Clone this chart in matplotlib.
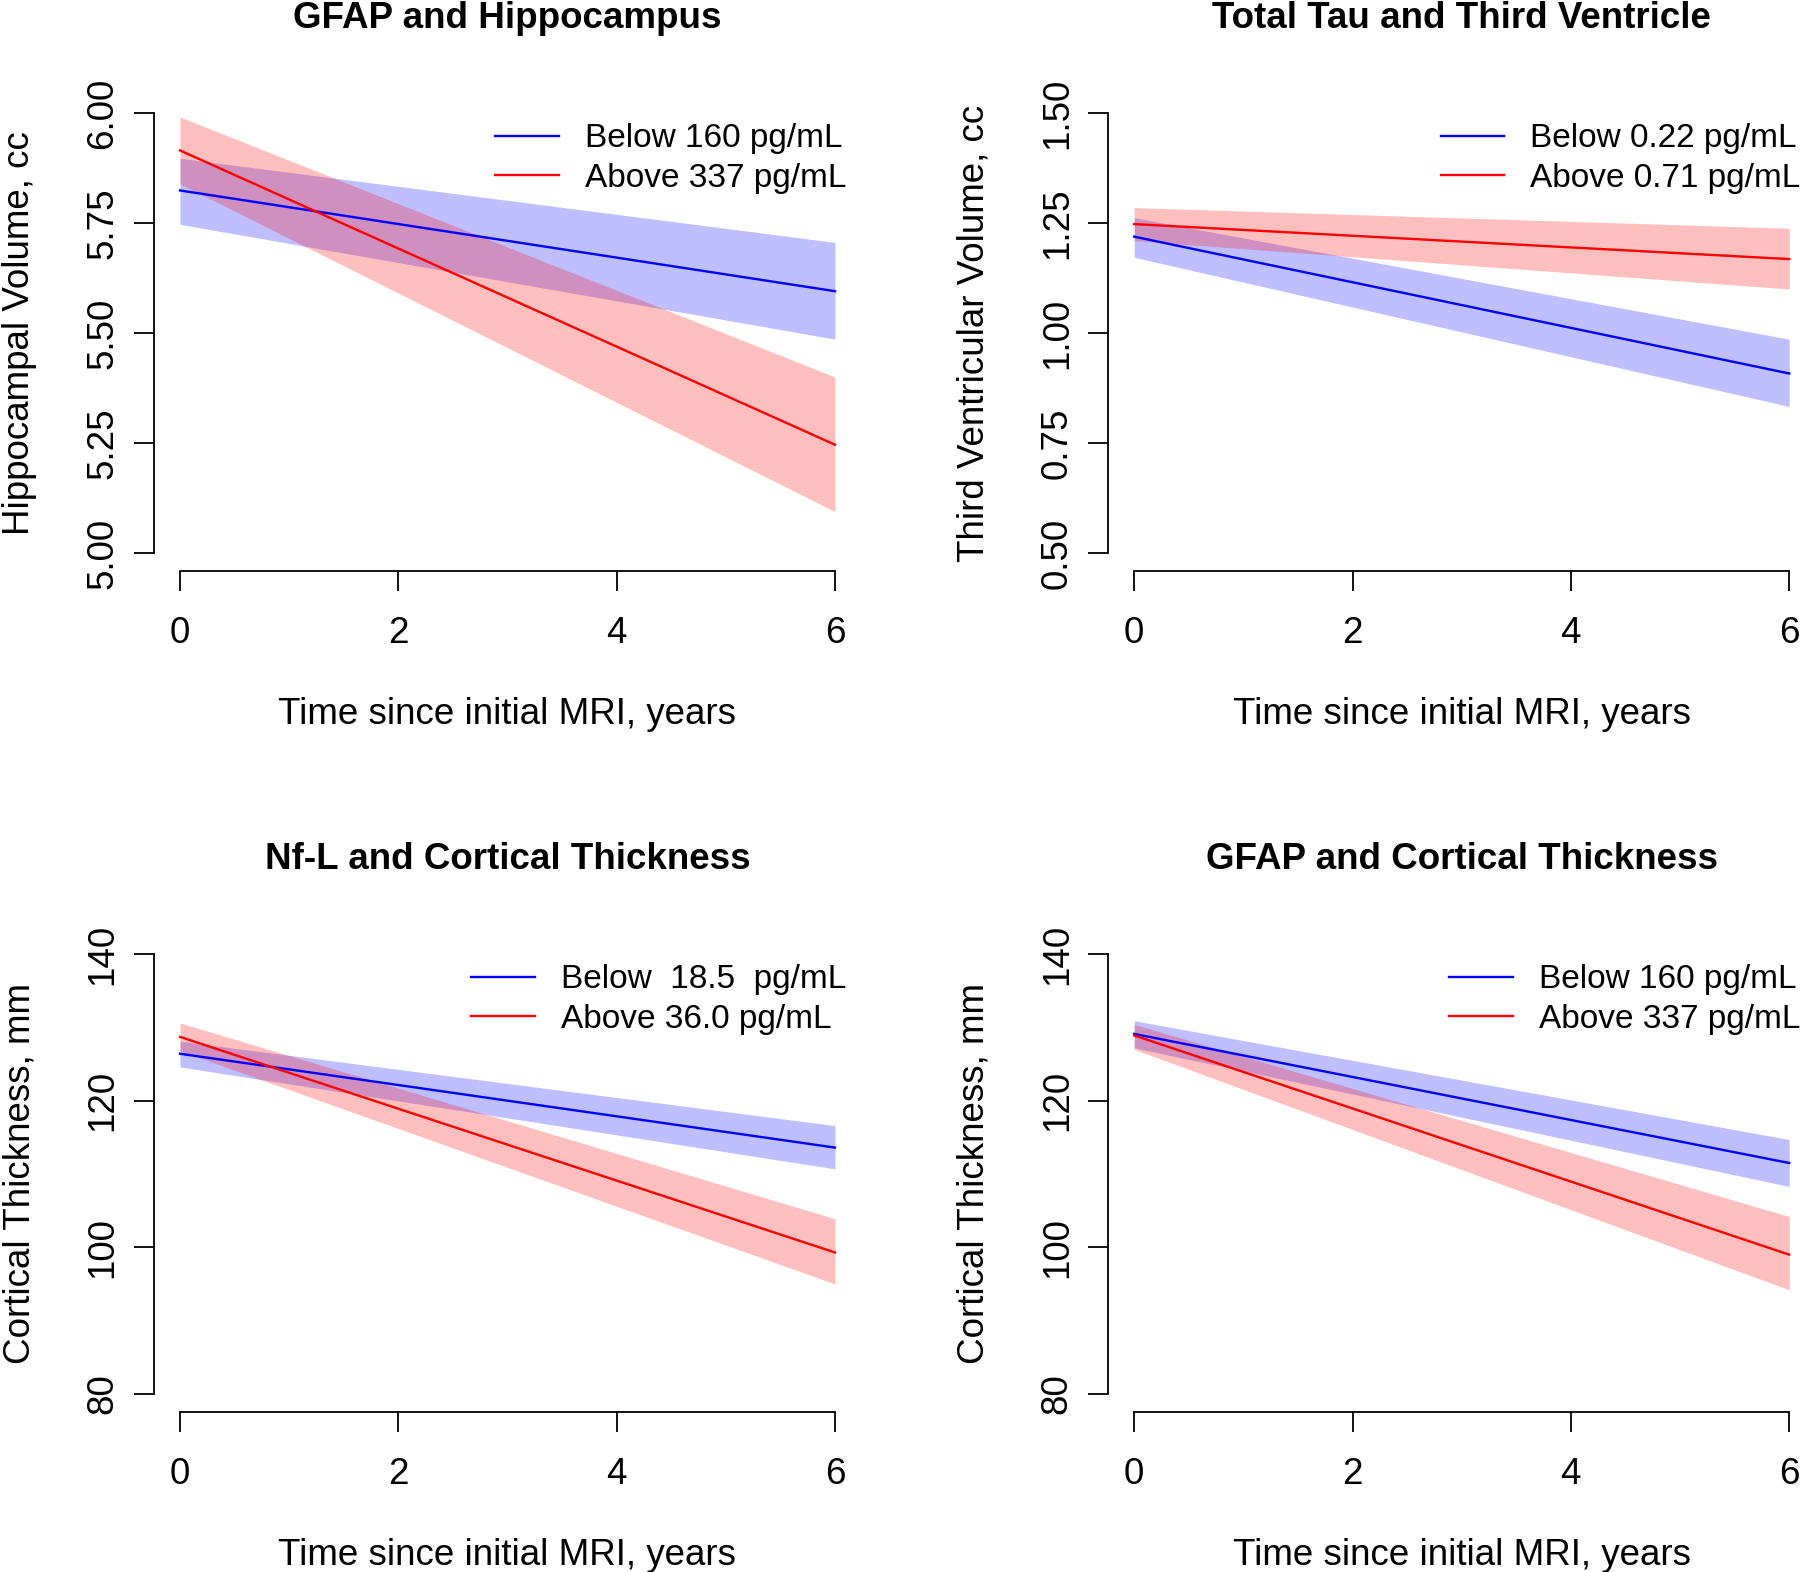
import numpy as np
import matplotlib
matplotlib.use('Agg')
import matplotlib.pyplot as plt

plt.rcParams['font.family'] = ['Liberation Sans', 'DejaVu Sans']

years = [0, 6]

# panel 1: GFAP and Hippocampus
hip_below = [5.824, 5.595]
hip_below_lo = [5.747, 5.486]
hip_below_hi = [5.897, 5.706]
hip_above = [5.915, 5.246]
hip_above_lo = [5.839, 5.094]
hip_above_hi = [5.991, 5.400]

# panel 2: Total Tau and Third Ventricle
ven_below = [1.219, 0.908]
ven_below_lo = [1.172, 0.833]
ven_below_hi = [1.262, 0.986]
ven_above = [1.2475, 1.168]
ven_above_lo = [1.210, 1.100]
ven_above_hi = [1.285, 1.238]

# panel 3: Nf-L and Cortical Thickness
nfl_below = [126.4, 113.6]
nfl_below_lo = [124.6, 110.7]
nfl_below_hi = [128.1, 116.6]
nfl_above = [128.7, 99.3]
nfl_above_lo = [126.8, 95.0]
nfl_above_hi = [130.6, 103.9]

# panel 4: GFAP and Cortical Thickness
gct_below = [129.1, 111.5]
gct_below_lo = [127.2, 108.3]
gct_below_hi = [130.9, 114.7]
gct_above = [128.9, 99.0]
gct_above_lo = [127.0, 94.2]
gct_above_hi = [130.4, 104.2]

titles = ['GFAP and Hippocampus', 'Total Tau and Third Ventricle',
          'Nf-L and Cortical Thickness', 'GFAP and Cortical Thickness']
ylabels = ['Hippocampal Volume, cc', 'Third Ventricular Volume, cc',
           'Cortical Thickness, mm', 'Cortical Thickness, mm']
legends = [['Below 160 pg/mL', 'Above 337 pg/mL'],
           ['Below 0.22 pg/mL', 'Above 0.71 pg/mL'],
           ['Below  18.5  pg/mL', 'Above 36.0 pg/mL'],
           ['Below 160 pg/mL', 'Above 337 pg/mL']]
yticks = [[5.00, 5.25, 5.50, 5.75, 6.00],
          [0.50, 0.75, 1.00, 1.25, 1.50],
          [80, 100, 120, 140],
          [80, 100, 120, 140]]
ytick_fmt = ['{:.2f}', '{:.2f}', '{:.0f}', '{:.0f}']
xticks = [0, 2, 4, 6]

series = [
    (hip_below, hip_below_lo, hip_below_hi, hip_above, hip_above_lo, hip_above_hi),
    (ven_below, ven_below_lo, ven_below_hi, ven_above, ven_above_lo, ven_above_hi),
    (nfl_below, nfl_below_lo, nfl_below_hi, nfl_above, nfl_above_lo, nfl_above_hi),
    (gct_below, gct_below_lo, gct_below_hi, gct_above, gct_above_lo, gct_above_hi),
]

W, H = 1800, 1572
fig = plt.figure(figsize=(W / 100, H / 100), dpi=100)

# axes boxes in pixels: left, top
boxes = [(153.8, 95.4), (1108.0, 95.4), (153.8, 936.4), (1108.0, 936.4)]
bw, bh = 707.4, 475.2

fs = 26.5
for i, (l, t) in enumerate(boxes):
    ax = fig.add_axes([l / W, (H - t - bh) / H, bw / W, bh / H])
    b, b_lo, b_hi, a, a_lo, a_hi = series[i]

    ax.fill_between(years, b_lo, b_hi, color='blue', alpha=0.25, linewidth=0)
    ax.plot(years, b, color='blue', lw=1.7, label=legends[i][0])
    ax.fill_between(years, a_lo, a_hi, color='red', alpha=0.25, linewidth=0)
    ax.plot(years, a, color='red', lw=1.7, label=legends[i][1])

    yt = yticks[i]
    pad = 0.04 * (yt[-1] - yt[0])
    ax.set_xlim(-0.24, 6.24)
    ax.set_ylim(yt[0] - pad, yt[-1] + pad)
    ax.set_xticks(xticks)
    ax.set_xticklabels([str(x) for x in xticks])
    ax.set_yticks(yt)
    ax.set_yticklabels([ytick_fmt[i].format(v) for v in yt])

    for s in ['top', 'right']:
        ax.spines[s].set_visible(False)
    ax.spines['left'].set_bounds(yt[0], yt[-1])
    ax.spines['bottom'].set_bounds(0, 6)
    for s in ['left', 'bottom']:
        ax.spines[s].set_linewidth(1.3)

    ax.tick_params(axis='both', length=14.4, width=1.3, labelsize=fs)
    ax.tick_params(axis='x', pad=18)
    ax.tick_params(axis='y', pad=9.5, labelrotation=90)
    for lab in ax.get_yticklabels():
        lab.set_va('center')

    ax.set_xlabel('Time since initial MRI, years', fontsize=fs)
    ax.xaxis.set_label_coords(0.5, -0.302)
    ax.xaxis.label.set_va('center')
    ax.set_ylabel(ylabels[i], fontsize=fs)
    ax.yaxis.set_label_coords(-0.1895, 0.5)
    ax.yaxis.label.set_va('center')

    ax.set_title(titles[i], fontsize=fs, fontweight='bold', y=1.161, pad=0)
    ax.title.set_va('center')

    ax.legend(loc='upper right', bbox_to_anchor=(1.018, 1.0), frameon=False,
              fontsize=24, handlelength=1.9, handletextpad=0.78,
              labelspacing=0.25, borderaxespad=0.54, borderpad=0.3)

fig.savefig('out.png', dpi=100)
